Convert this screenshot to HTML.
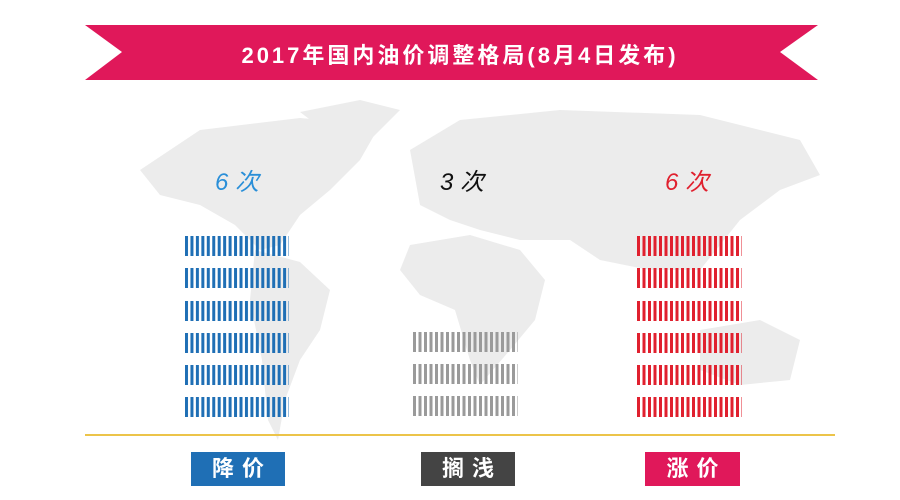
<!DOCTYPE html>
<html><head><meta charset="utf-8"><style>
body{margin:0;width:900px;height:500px;background:#fff;overflow:hidden;position:relative;font-family:"Liberation Sans","Noto Sans CJK SC",sans-serif}
.t{position:absolute;color:#fff;font-size:22px;font-weight:bold;letter-spacing:3px;left:0;width:920px;text-align:center;top:38px}
.n{position:absolute;font-size:24px;font-style:italic;top:162px}
.lab{position:absolute;top:452px;height:34px;color:#fff;font-size:22px;font-weight:bold;text-align:center;line-height:34px;letter-spacing:8px;text-indent:8px}
</style></head><body>
<svg width="900" height="500" style="position:absolute;left:0;top:0">
<g fill="#ececec">
<path d="M140 170 L200 130 L300 118 L380 125 L360 160 L330 190 L300 215 L280 245 L260 250 L235 225 L200 205 L160 195Z"/>
<path d="M300 112 L360 100 L400 110 L370 140 L330 135Z"/>
<path d="M255 250 L300 262 L330 290 L320 330 L300 360 L285 400 L278 440 L268 420 L262 360 L250 300Z"/>
<path d="M410 150 L460 120 L560 110 L700 115 L800 140 L820 175 L780 190 L740 220 L700 270 L650 270 L600 260 L570 240 L520 240 L480 230 L450 220 L420 205Z"/>
<path d="M410 245 L470 235 L520 250 L545 280 L535 320 L510 350 L480 385 L470 360 L455 310 L420 295 L400 270Z"/>
<path d="M700 330 L760 320 L800 340 L790 380 L740 385 L700 370Z"/>
</g>
<path d="M85 25 H818 L780 52 L818 80 H85 L122 52Z" fill="#e0185a"/>
<line x1="85" y1="435" x2="835" y2="435" stroke="#ecc44a" stroke-width="2"/>
<defs>
<pattern id="pb" width="5.45" height="40" patternUnits="userSpaceOnUse" x="185"><rect width="3" height="40" fill="#1f6fb5"/></pattern>
<pattern id="pg" width="5.5" height="40" patternUnits="userSpaceOnUse" x="413"><rect width="3" height="40" fill="#9a9a9a"/></pattern>
<pattern id="pr" width="5.5" height="40" patternUnits="userSpaceOnUse" x="637"><rect width="3" height="40" fill="#e0202e"/></pattern>
</defs>
<g fill="url(#pb)">
<rect x="185" y="236" width="104" height="20"/><rect x="185" y="268" width="104" height="20"/><rect x="185" y="301" width="104" height="20"/><rect x="185" y="333" width="104" height="20"/><rect x="185" y="365" width="104" height="20"/><rect x="185" y="397" width="104" height="20"/>
</g>
<g fill="url(#pg)">
<rect x="413" y="332" width="105" height="20"/><rect x="413" y="364" width="105" height="20"/><rect x="413" y="396" width="105" height="20"/>
</g>
<g fill="url(#pr)">
<rect x="637" y="236" width="105" height="20"/><rect x="637" y="268" width="105" height="20"/><rect x="637" y="301" width="105" height="20"/><rect x="637" y="333" width="105" height="20"/><rect x="637" y="365" width="105" height="20"/><rect x="637" y="397" width="105" height="20"/>
</g>
</svg>
<div class="t">2017年国内油价调整格局(8月4日发布)</div>
<div class="n" style="left:215px;color:#2a8fd8">6 次</div>
<div class="n" style="left:440px;color:#111">3 次</div>
<div class="n" style="left:665px;color:#e0202e">6 次</div>
<div class="lab" style="left:191px;width:94px;background:#1f6fb5">降价</div>
<div class="lab" style="left:421px;width:94px;background:#444">搁浅</div>
<div class="lab" style="left:645px;width:95px;background:#e0185a">涨价</div>
</body></html>
